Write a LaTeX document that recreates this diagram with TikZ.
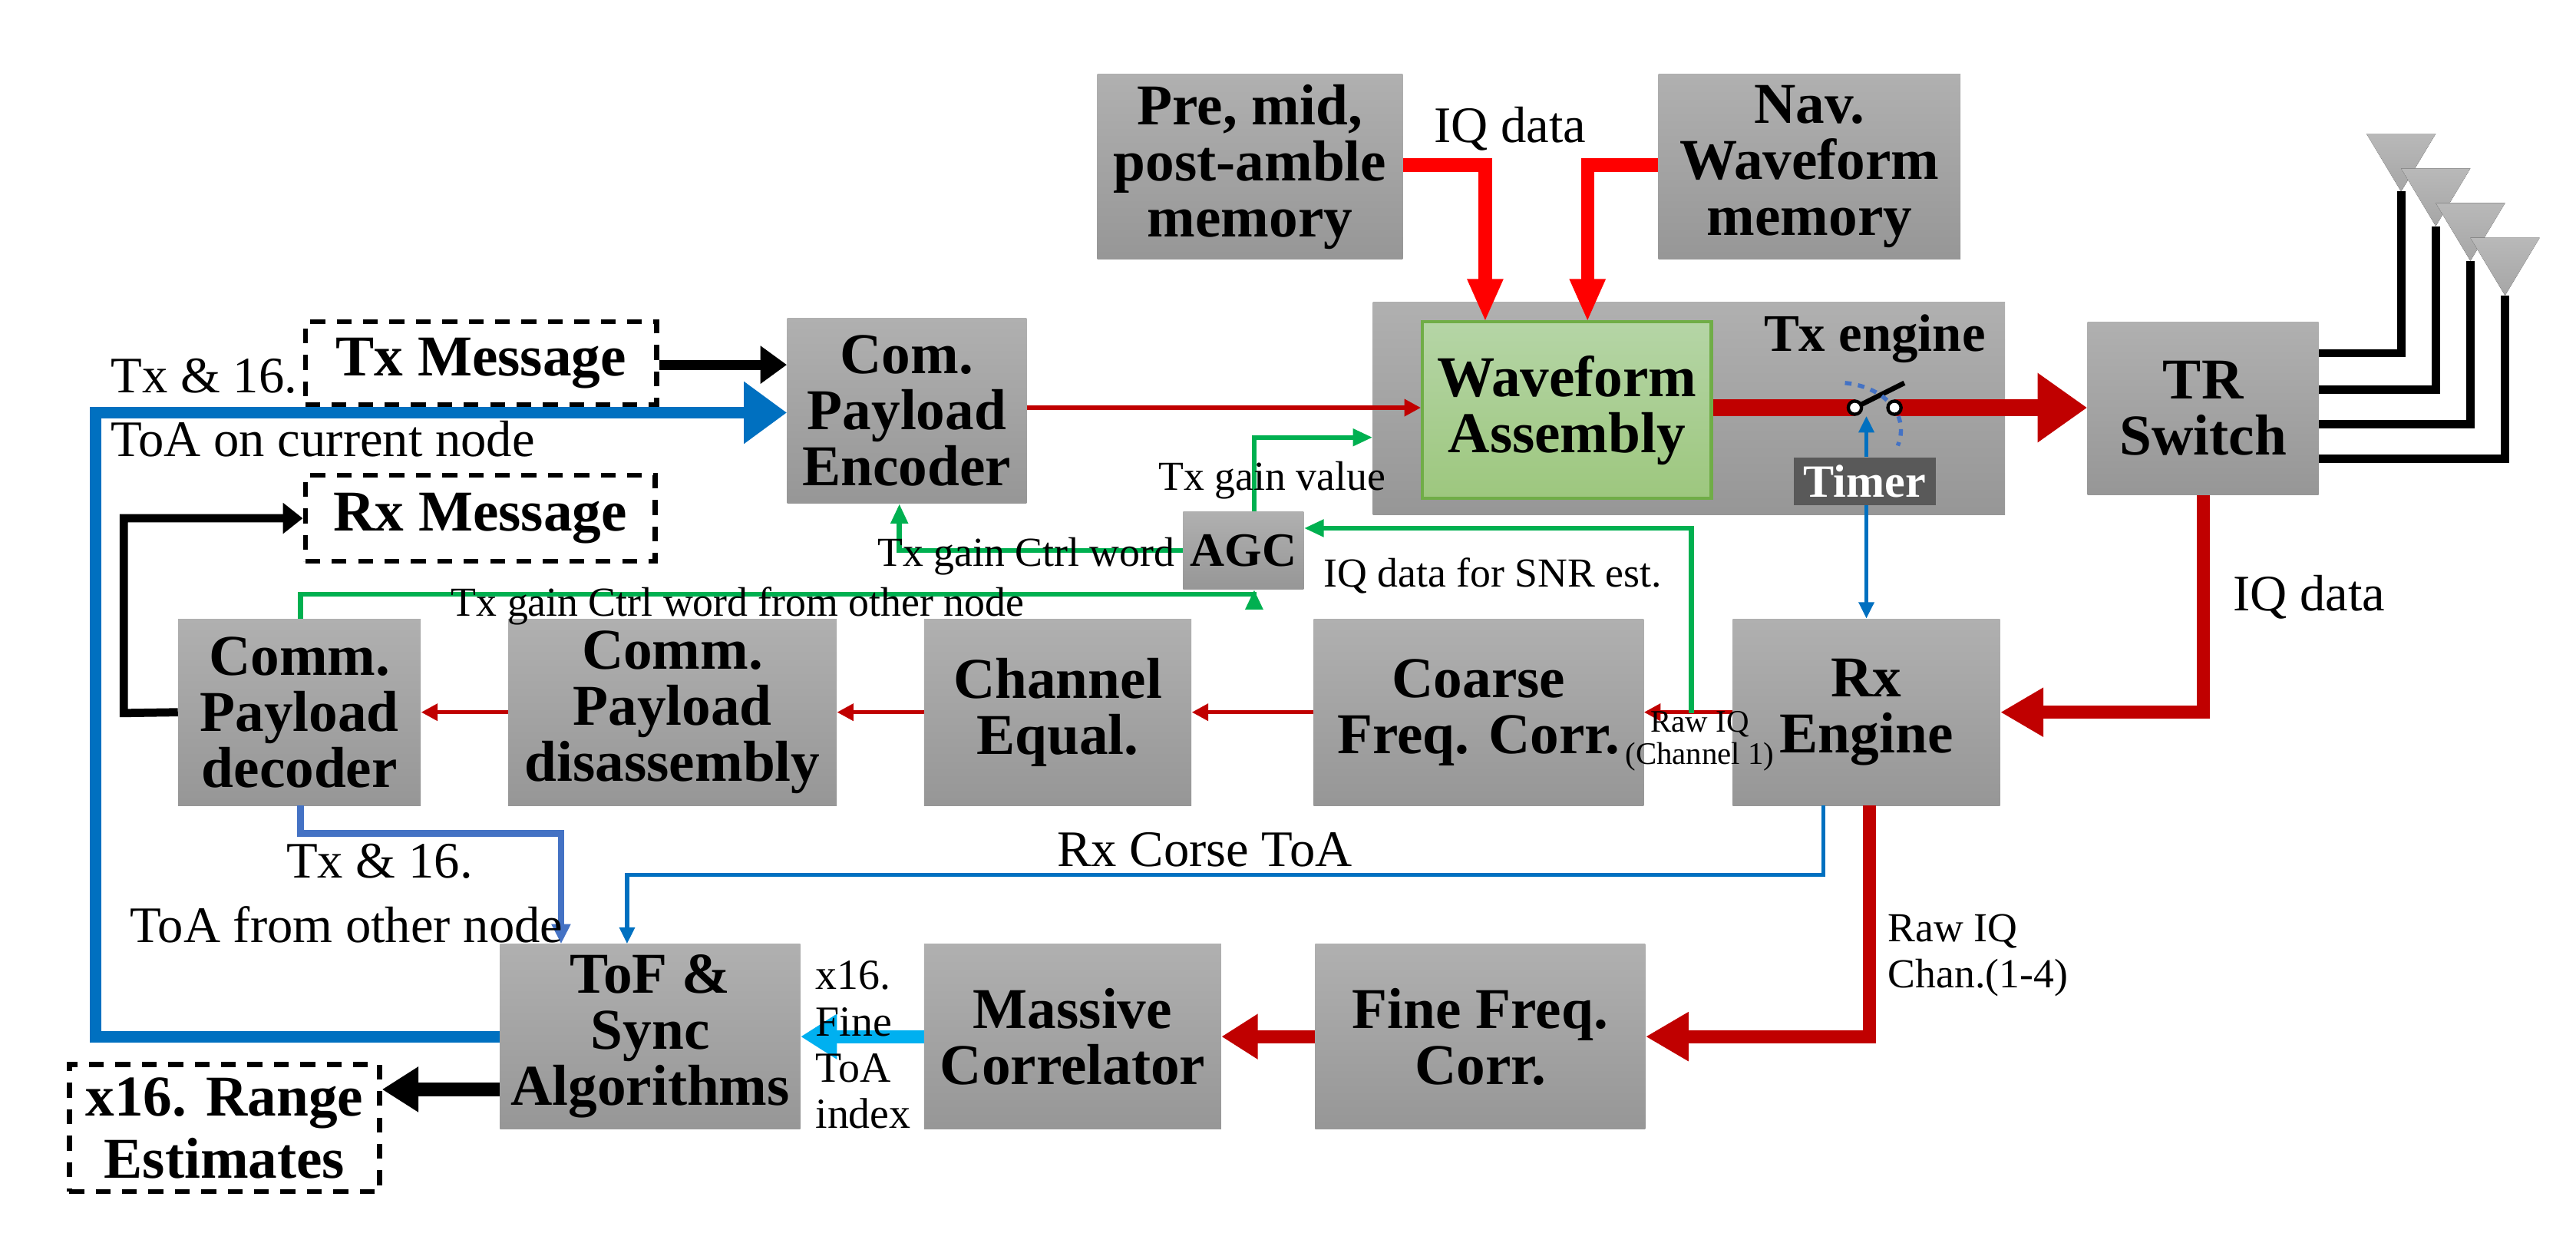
\documentclass[tikz,border=0pt]{standalone}
\usepackage{fontspec}
\setmainfont{Liberation Serif}
\usetikzlibrary{arrows.meta}
\definecolor{dred}{HTML}{C00000}
\definecolor{bred}{HTML}{FF0000}
\definecolor{gr}{HTML}{00B050}
\definecolor{bl}{HTML}{0070C0}
\definecolor{bl2}{HTML}{4472C4}
\definecolor{lbl}{HTML}{00B0F0}
\tikzset{
 box/.style={inner sep=0pt, top color=gray!62, bottom color=gray!82, draw=none, align=center,
   font=\fontsize{35}{34}\selectfont\bfseries},
 dbox/.style={draw=black, line width=3pt, dash pattern=on 9pt off 7pt, inner sep=0pt, align=center,
   font=\fontsize{35}{38}\selectfont\bfseries},
 lab/.style={font=\fontsize{31}{34}\selectfont, inner sep=1pt},
 slab/.style={font=\fontsize{25}{28}\selectfont, inner sep=1pt},
 xlab/.style={font=\fontsize{19}{20}\selectfont, inner sep=1pt, align=center},
 bigred/.style={line width=8pt, -{Triangle[length=26pt,width=28pt]}},
 thinred/.style={dred, line width=2.5pt, -{Triangle[length=10pt,width=10pt]}},
 grn/.style={gr, line width=3pt, -{Triangle[length=12pt,width=10pt]}},
}
\begin{document}
\begin{tikzpicture}[x=1pt,y=-1pt]
\useasboundingbox (0,0) rectangle (1561,753);
% boxes
\node[box, minimum width=185pt, minimum height=112pt] (pre) at (757.5,101) {Pre, mid,\\post-amble\\memory};
\node[box, minimum width=183pt, minimum height=112pt] (nav) at (1096.5,101) {Nav.\\Waveform\\memory};
\node[box, minimum width=383pt, minimum height=129pt] (txe) at (1023.5,247.5) {};
\node[box, minimum width=175pt, minimum height=107pt, top color={rgb,255:red,181;green,213;blue,166}, bottom color={rgb,255:red,157;green,199;blue,126}, draw={rgb,255:red,112;green,173;blue,71}, line width=2pt] (wa) at (949.5,248.5) {Waveform\\Assembly};
\node[font=\fontsize{32}{34}\selectfont\bfseries] (txl) at (1136,205) {Tx engine};
\node[inner sep=0pt, minimum width=86pt, minimum height=29pt, fill={rgb,255:red,89;green,89;blue,89}, text=white, font=\fontsize{28}{28}\selectfont\bfseries] (timer) at (1130,291.5) {Timer};
\node[box, minimum width=140pt, minimum height=105pt] (tr) at (1335,247.5) {TR\\Switch};
\node[box, minimum width=145pt, minimum height=112pt] (enc) at (549.5,249) {Com.\\Payload\\Encoder};
\node[dbox, minimum width=213pt, minimum height=50pt] (txm) at (291.5,220) {Tx Message};
\node[dbox, minimum width=212pt, minimum height=52pt] (rxm) at (291,314) {Rx Message};
\node[box, minimum width=73pt, minimum height=47pt, font=\fontsize{29}{30}\selectfont\bfseries] (agc) at (753.5,333.5) {AGC};
\node[box, minimum width=147pt, minimum height=113pt] (dec) at (181.5,431.5) {Comm.\\Payload\\decoder};
\node[box, minimum width=199pt, minimum height=113pt] (dis) at (407.5,431.5) {Comm.\\Payload\\disassembly};
\node[box, minimum width=162pt, minimum height=113pt] (ceq) at (641,431.5) {Channel\\Equal.};
\node[box, minimum width=200pt, minimum height=113pt] (cfc) at (896,431.5) {Coarse\\Freq. Corr.};
\node[box, minimum width=162pt, minimum height=113pt] (rxe) at (1131,431.5) {Rx\\Engine};
\node[box, minimum width=182pt, minimum height=112pt] (tof) at (394,628) {ToF \&\\Sync\\Algorithms};
\node[box, minimum width=180pt, minimum height=112pt] (mc) at (650,628) {Massive\\Correlator};
\node[box, minimum width=200pt, minimum height=112pt] (ffc) at (897,628) {Fine Freq.\\Corr.};
\node[dbox, minimum width=188pt, minimum height=77pt] (rng) at (136,683.5) {x16. Range\\Estimates};
% antennas
\foreach \i/\x/\y in {1/1455/81,2/1476/102,3/1497/123,4/1518/144}{
  \fill[top color=gray!55, bottom color=gray!70] (\x-21,\y) -- (\x+21,\y) -- (\x,\y+35) -- cycle;
  \coordinate (ant\i) at (\x,\y+35);
}
\foreach \i/\y in {1/214,2/236,3/257,4/278}{
  \draw[line width=5pt] (tr.east |- 0,\y) -| (ant\i);
}
% memory to WA
\draw[bred, line width=8pt, -{Triangle[length=26pt,width=20pt]}] (pre.east |- 0,100) -| (900,195);
\draw[bred, line width=8pt, -{Triangle[length=26pt,width=20pt]}] (nav.west |- 0,100) -| (962,195);
\node[lab] (iq1) at (915,78) {IQ data};
% encoder to WA
\draw[thinred] (enc.east |- 0,247) -- (wa.west |- 0,247);
% WA to TR with switch
\coordinate (sw1) at (1124,247);
\coordinate (sw2) at (1148,247);
\draw[dred, line width=10pt] (wa.east |- 0,247) -- (sw1);
\draw[dred, line width=10pt, -{Triangle[length=30pt,width=40pt]}] (sw2) -- (tr.west |- 0,247);
\draw[black, line width=3pt] (sw1) -- (1154,232);
\draw[bl2, line width=2.5pt, dash pattern=on 4pt off 4pt] (1118,232) .. controls (1140,234) and (1158,250) .. (1150,270);
\fill[white, draw=black, line width=2pt] (sw1) circle (4pt);
\fill[white, draw=black, line width=2pt] (sw2) circle (4pt);
% TR to Rx engine
\draw[dred, bigred] (tr.south) |- (rxe.east);
\node[lab, anchor=west] (iq2) at (1352,362) {IQ data};
% receive chain
\draw[thinred] (rxe.west) -- (cfc.east);
\draw[thinred] (cfc.west) -- (ceq.east);
\draw[thinred] (ceq.west) -- (dis.east);
\draw[thinred] (dis.west) -- (dec.east);
\node[xlab] (rawiq) at (1030,449) {Raw IQ\\(Channel 1)};
% Rx engine to Fine freq
\draw[dred, bigred] (1133,488) |- (ffc.east);
\node[slab, anchor=west, align=left] (raw4) at (1143,579) {Raw IQ\\Chan.(1-4)};
\draw[dred, line width=8pt, -{Triangle[length=22pt,width=26pt]}] (ffc.west) -- (mc.east);
\draw[lbl, line width=8pt, -{Triangle[length=22pt,width=26pt]}] (mc.west) -- (tof.east);
\node[slab, anchor=west, align=left, font=\fontsize{26}{28}\selectfont] (fine) at (493,633) {x16.\\Fine\\ToA\\index};
% ToF to range
\draw[black, line width=8pt, -{Triangle[length=22pt,width=26pt]}] (tof.west |- 0,660) -- (rng.east |- 0,660);
% ToF to encoder
\draw[bl, line width=7pt, -{Triangle[length=26pt,width=36pt]}] (tof.west |- 0,628) -| (58,250) -- (enc.west |- 0,250);
\node[lab, anchor=west] (t16a) at (66,228) {Tx \& 16.};
\node[lab, anchor=west] (t16b) at (66,266) {ToA on current node};
% Tx message to encoder
\draw[black, line width=6pt, -{Triangle[length=16pt,width=22pt]}] (txm.east |- 0,221) -- (enc.west |- 0,221);
% decoder to Rx message
\draw[black, line width=5pt, -{Triangle[length=12pt,width=18pt]}] (dec.west) -- (75,432) |- (rxm.west);
% green lines
\draw[grn] (182,375) |- (760,360) -- (agc.south -| 760,0);
\node[slab] (l1) at (447,367) {Tx gain Ctrl word from other node};
\draw[grn] (agc.west) -| (enc.south -| 545,0);
\node[slab, anchor=east] (l2) at (713,337) {Tx gain Ctrl word};
\draw[grn] (agc.north -| 760,0) |- (txe.west |- 0,265);
\node[slab] (l3) at (771,291) {Tx gain value};
\draw[grn] (1025,432) |- (agc.east |- 0,320);
\node[slab, anchor=west] (l4) at (801,349) {IQ data for SNR est.};
% blue thin lines
\draw[bl, line width=2.5pt, -{Triangle[length=10pt,width=9pt]}] (timer.south -| 1131,0) -- (rxe.north -| 1131,0);
\draw[bl, line width=2.5pt, -{Triangle[length=10pt,width=9pt]}] (timer.north -| 1131,0) -- (1131,252);
\draw[bl, line width=2.5pt, -{Triangle[length=10pt,width=9pt]}] (1105,488) |- (380,530) -- (tof.north -| 380,0);
\node[lab] (rct) at (730,515) {Rx Corse ToA};
\draw[bl2, line width=4pt, -{Triangle[length=12pt,width=11pt]}] (182,488) |- (340,505) -- (tof.north -| 340,0);
\node[lab] (l5) at (230,522) {Tx \& 16.};
\node[lab] (l6) at (210,560) {ToA from other node};
\end{tikzpicture}
\end{document}
